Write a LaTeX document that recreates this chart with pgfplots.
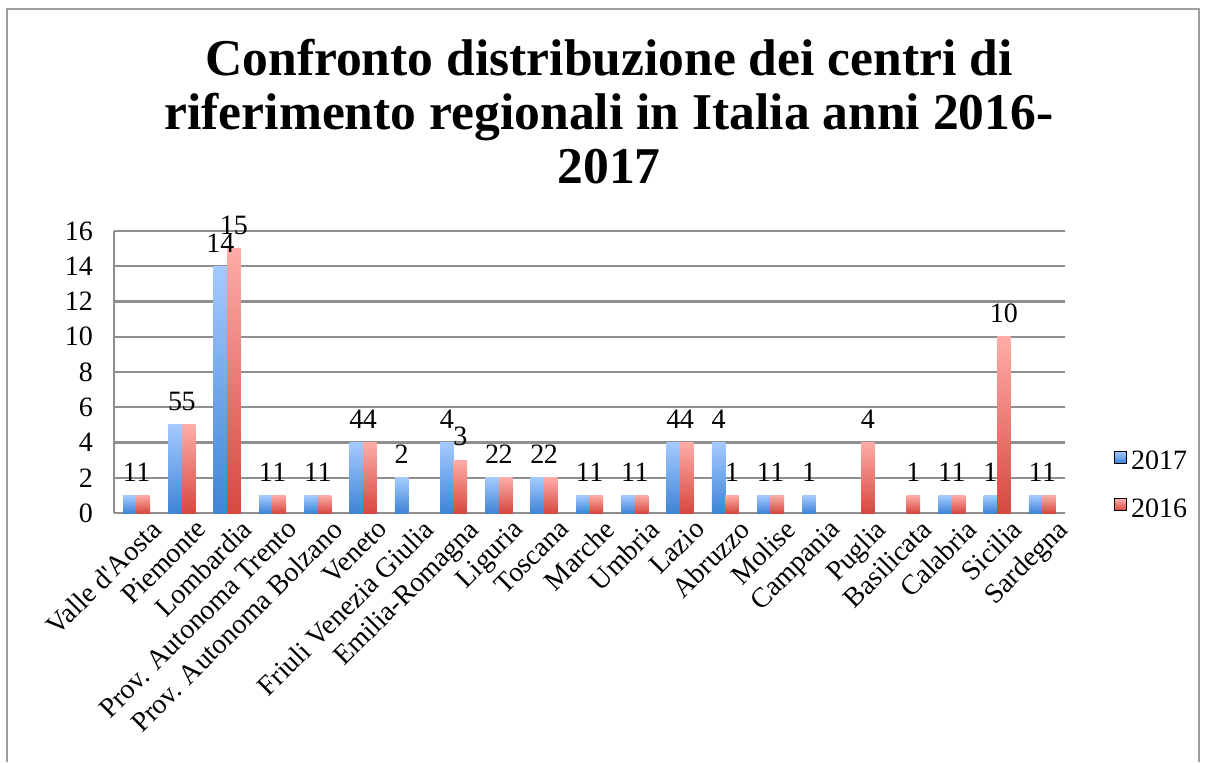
\documentclass[border=0pt]{standalone}
\usepackage{fontspec}
\setmainfont{Liberation Serif}
\usepackage{pgfplots}
\pgfplotsset{compat=1.18}

\definecolor{blueTop}{HTML}{A4CAFF}
\definecolor{blueBot}{HTML}{3F84D6}
\definecolor{redTop}{HTML}{FFACA8}
\definecolor{redBot}{HTML}{D6483E}
\definecolor{gridgray}{HTML}{8F8F8F}

% one \addplot per bar, so that every bar gets its own gradient
\pgfplotsset{
  barA/.style={ybar, bar width=6.75pt, bar shift=-3.375pt, draw=none,
      top color=blueTop, bottom color=blueBot, forget plot,
      every node near coord/.append style={xshift=-3.375pt}},
  barB/.style={ybar, bar width=6.75pt, bar shift=3.375pt, draw=none,
      top color=redTop, bottom color=redBot, forget plot,
      every node near coord/.append style={xshift=3.375pt}},
}
\newcommand\vA[2]{\addplot[barA] coordinates {(#1,#2)};}
\newcommand\vB[2]{\addplot[barB] coordinates {(#1,#2)};}

\begin{document}
\begin{tikzpicture}
% frame and title, in pixel units of the reference (y up)
\begin{scope}[x=0.5pt,y=0.5pt]
\useasboundingbox (0,0) rectangle (1205,762);
\draw[gray!75, line width=1.2pt] (7,0) -- (7,753) -- (1199,753) -- (1199,0);
\node[font=\bfseries\fontsize{25.8}{27}\selectfont, align=center]
  at (609,650) {Confronto distribuzione dei centri di\\riferimento regionali in Italia anni 2016-\\2017};
\end{scope}

\begin{axis}[
    at={(57pt,124.5pt)}, anchor=south west,
    scale only axis,
    width=475.5pt, height=141pt,
    xmin=-0.5, xmax=20.5,
    ymin=0, ymax=16,
    ytick={0,2,...,16},
    xtick={0,...,20},
    xticklabels={{Valle d\textquotesingle Aosta},Piemonte,Lombardia,{Prov. Autonoma Trento},{Prov. Autonoma Bolzano},Veneto,{Friuli Venezia Giulia},{Emilia-Romagna},Liguria,Toscana,Marche,Umbria,Lazio,Abruzzo,Molise,Campania,Puglia,Basilicata,Calabria,Sicilia,Sardegna},
    xticklabel style={rotate=45, anchor=north east, inner sep=1pt, xshift=4pt, yshift=-5pt,
        font=\fontsize{14}{15}\selectfont},
    yticklabel style={font=\fontsize{14}{15}\selectfont, xshift=-7pt},
    /pgf/number format/assume math mode=true,
    major tick length=0pt,
    ymajorgrids,
    grid style={gridgray, line width=1.2pt},
    axis x line*=bottom, axis y line*=left,
    axis line style={gridgray, line width=1.2pt, -},
    nodes near coords,
    nodes near coords style={font=\fontsize{14}{15}\selectfont, text=black, anchor=south, yshift=3.5pt},
    legend image code/.code={\fill[#1] (0pt,-0.5pt) rectangle (6pt,5.5pt);},
    legend style={at={(1.045,0.096)}, anchor=west, draw=none, fill=none,
        font=\fontsize{14}{15}\selectfont, row sep=9pt, cells={anchor=west}},
]
% 2017 (zero: Puglia, Basilicata)
\vA{0}{1}  \vA{1}{5}  \vA{2}{14} \vA{3}{1}  \vA{4}{1}  \vA{5}{4}  \vA{6}{2}
\vA{7}{4}  \vA{8}{2}  \vA{9}{2}  \vA{10}{1} \vA{11}{1} \vA{12}{4} \vA{13}{4}
\vA{14}{1} \vA{15}{1} \vA{18}{1} \vA{19}{1} \vA{20}{1}
% 2016 (zero: Friuli Venezia Giulia, Campania)
\vB{0}{1}  \vB{1}{5}  \vB{2}{15} \vB{3}{1}  \vB{4}{1}  \vB{5}{4}  \vB{7}{3}
\vB{8}{2}  \vB{9}{2}  \vB{10}{1} \vB{11}{1} \vB{12}{4} \vB{13}{1} \vB{14}{1}
\vB{16}{4} \vB{17}{1} \vB{18}{1} \vB{19}{10} \vB{20}{1}

\addlegendimage{top color=blueTop, bottom color=blueBot}
\addlegendentry{2017}
\addlegendimage{top color=redTop, bottom color=redBot}
\addlegendentry{2016}
\end{axis}
\end{tikzpicture}
\end{document}
